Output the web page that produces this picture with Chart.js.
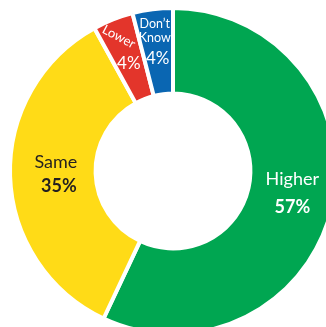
<!DOCTYPE html>
<html>
<head>
<meta charset="utf-8">
<script src="https://cdn.jsdelivr.net/npm/chart.js@4.4.1/dist/chart.umd.min.js"></script>
<style>
    html, body { margin: 0; padding: 0; background: #fff; overflow: hidden; }
    #wrap { position: absolute; left: 0; top: 0; width: 346px; height: 342px; }
</style>
</head>
<body>
<div id="wrap"><canvas id="myChart"></canvas></div>
<script>
"use strict";

// DATA
const categories = ["Higher", "Same", "Lower", "Don\u2019t Know"];
const values = [57, 35, 4, 4];
const colors = ["#00A651", "#FFDB17", "#E3352B", "#0A66B2"];
const textColors = ["#ffffff", "#231f20", "#ffffff", "#ffffff"];

// label layout per slice: radial shift, name / value offsets and fonts
const labelStyle = [
    { shift: 0, name: [2, -18, "18px Lato"], value: [2, 10, "bold 18px Lato"] },
    { shift: 0, name: [3, -13, "18px Lato"], value: [6, 11, "bold 18px Lato"] },
    { shift: 8, name: [-7, -15, "13px Lato"], value: [3, 12, "17px Lato"], rot: 28 },
    { shift: 10, name: [-2, -18, "12.5px Lato"], value: [1, 17, "17px Lato"], wrap: true }
];

const labelsPlugin = {
    id: "sliceLabels",
    afterDatasetsDraw: function (chart) {
        let ctx = chart.ctx;
        let arcs = chart.getDatasetMeta(0).data;
        ctx.save();
        ctx.textAlign = "center";
        ctx.textBaseline = "middle";
        for (let i = 0; i < arcs.length; i++) {
            let a = arcs[i].getProps(["x", "y", "startAngle", "endAngle", "innerRadius", "outerRadius"]);
            let mid = (a.startAngle + a.endAngle) / 2;
            let r = (a.innerRadius + a.outerRadius) / 2 + labelStyle[i].shift;
            let cx = a.x + r * Math.cos(mid);
            let cy = a.y + r * Math.sin(mid);
            let s = labelStyle[i];
            ctx.fillStyle = textColors[i];
            // name
            ctx.font = s.name[2];
            if (s.wrap) {
                let parts = categories[i].split(" ");
                for (let k = 0; k < parts.length; k++)
                    ctx.fillText(parts[k], cx + s.name[0], cy + s.name[1] + k * 14);
            } else if (s.rot) {
                ctx.save();
                ctx.translate(cx + s.name[0], cy + s.name[1]);
                ctx.rotate(s.rot * Math.PI / 180);
                ctx.fillText(categories[i], 0, 0);
                ctx.restore();
            } else {
                ctx.fillText(categories[i], cx + s.name[0], cy + s.name[1]);
            }
            // value
            ctx.font = s.value[2];
            ctx.fillText(values[i] + "%", cx + s.value[0], cy + s.value[1]);
        }
        ctx.restore();
    }
};

let myChart = new Chart(document.getElementById("myChart"), {
    type: "doughnut",
    data: {
        labels: categories,
        datasets: [{
            data: values,
            backgroundColor: colors,
            borderColor: "#ffffff",
            borderWidth: 4
        }]
    },
    options: {
        responsive: true,
        maintainAspectRatio: false,
        animation: false,
        radius: 163,
        cutout: "47.5%",
        layout: { padding: 0 },
        plugins: {
            legend: { display: false },
            tooltip: { enabled: false }
        }
    },
    plugins: [labelsPlugin]
});
</script>
</body>
</html>
